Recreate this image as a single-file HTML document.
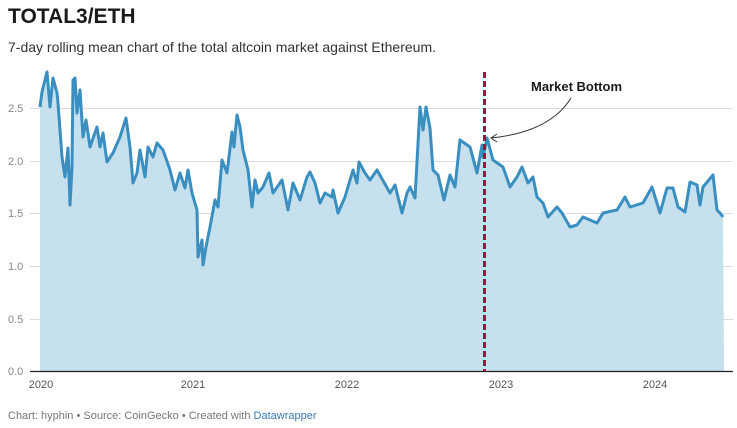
<!DOCTYPE html>
<html><head><meta charset="utf-8"><style>
body{margin:0;width:737px;height:428px;background:#fff;font-family:"Liberation Sans",Arial,sans-serif;overflow:hidden;position:relative}
.t{position:absolute;left:8px;top:5px;font-size:21px;font-weight:bold;color:#1a1a1a}
.s{position:absolute;left:8px;top:39px;font-size:14px;color:#333}
.f{position:absolute;left:8px;top:410px;font-size:11px;color:#777}
.f span{color:#3a7ab8}
svg{position:absolute;left:0;top:0}
</style></head><body>
<div class="t">TOTAL3/ETH</div>
<div class="s">7-day rolling mean chart of the total altcoin market against Ethereum.</div>
<svg width="737" height="428">
<g stroke="#dcdcdc" stroke-width="1">
<line x1="30" x2="733" y1="108.5" y2="108.5"/><line x1="30" x2="733" y1="161.5" y2="161.5"/><line x1="30" x2="733" y1="213.5" y2="213.5"/><line x1="30" x2="733" y1="266.5" y2="266.5"/><line x1="30" x2="733" y1="319.5" y2="319.5"/>
</g>
<g font-size="11" fill="#888" font-family="Liberation Sans,Arial,sans-serif">
<text x="8" y="112">2.5</text><text x="8" y="165">2.0</text><text x="8" y="217">1.5</text><text x="8" y="270">1.0</text><text x="8" y="323">0.5</text><text x="8" y="375">0.0</text>
</g>
<g font-size="11" fill="#555" text-anchor="middle" font-family="Liberation Sans,Arial,sans-serif">
<text x="41" y="388">2020</text><text x="193" y="388">2021</text><text x="347" y="388">2022</text><text x="501" y="388">2023</text><text x="655" y="388">2024</text>
</g>
<path id="a" fill="#c6e0ee" d="M40,371 L40,107 42,92 47,72 50,107 53,78 57,93 58,103 62,157 65,177 68,148 70,205 72,167 73,80 75,78 77,113 80,90 83,137 86,120 90,147 97,127 100,147 103,133 107,162 113,153 120,137 126,118 130,147 133,183 137,173 140,150 145,177 148,147 153,157 157,143 163,150 170,170 175,190 180,173 185,188 188,170 192,193 197,210 198,257 202,240 203,265 206,247 210,227 215,200 218,207 222,160 227,173 232,132 234,147 237,115 240,127 243,150 248,170 252,207 255,180 258,193 263,187 269,173 273,193 282,180 288,210 293,183 300,200 307,177 310,172 315,183 320,203 325,193 332,197 333,190 338,213 345,197 353,170 357,183 359,162 365,173 370,180 377,170 390,193 395,185 402,213 407,193 410,187 415,198 420,107 423,130 426,107 430,128 433,170 438,175 444,200 450,175 455,187 460,140 470,147 477,173 482,145 483,157 487,138 493,160 503,167 510,187 517,177 522,167 528,183 533,177 537,197 543,203 548,217 557,207 562,213 570,227 577,225 583,217 597,223 603,213 617,210 625,197 630,207 643,203 652,187 660,213 667,188 673,188 678,207 685,212 690,182 697,185 700,205 703,187 713,175 717,210 720,213 723,217 L724,371 Z"/>
<polyline fill="none" stroke="#3b8fc0" stroke-width="3" stroke-linejoin="round" points="40,107 42,92 47,72 50,107 53,78 57,93 58,103 62,157 65,177 68,148 70,205 72,167 73,80 75,78 77,113 80,90 83,137 86,120 90,147 97,127 100,147 103,133 107,162 113,153 120,137 126,118 130,147 133,183 137,173 140,150 145,177 148,147 153,157 157,143 163,150 170,170 175,190 180,173 185,188 188,170 192,193 197,210 198,257 202,240 203,265 206,247 210,227 215,200 218,207 222,160 227,173 232,132 234,147 237,115 240,127 243,150 248,170 252,207 255,180 258,193 263,187 269,173 273,193 282,180 288,210 293,183 300,200 307,177 310,172 315,183 320,203 325,193 332,197 333,190 338,213 345,197 353,170 357,183 359,162 365,173 370,180 377,170 390,193 395,185 402,213 407,193 410,187 415,198 420,107 423,130 426,107 430,128 433,170 438,175 444,200 450,175 455,187 460,140 470,147 477,173 482,145 483,157 487,138 493,160 503,167 510,187 517,177 522,167 528,183 533,177 537,197 543,203 548,217 557,207 562,213 570,227 577,225 583,217 597,223 603,213 617,210 625,197 630,207 643,203 652,187 660,213 667,188 673,188 678,207 685,212 690,182 697,185 700,205 703,187 713,175 717,210 720,213 723,217"/>
<line x1="30" x2="733" y1="371.5" y2="371.5" stroke="#222" stroke-width="1.2"/>
<line x1="484.5" x2="484.5" y1="72" y2="371" stroke="#a3143d" stroke-width="3" stroke-dasharray="6,3"/>
<text x="531" y="91" font-size="13" font-weight="bold" fill="#1a1a1a" font-family="Liberation Sans,Arial,sans-serif">Market Bottom</text>
<path d="M571,98 Q550,132 491,138" fill="none" stroke="#333" stroke-width="1"/>
<path d="M497,134 L491,138 L497,142" fill="none" stroke="#333" stroke-width="1"/>
</svg>
<div class="f">Chart: hyphin • Source: CoinGecko • Created with <span>Datawrapper</span></div>
</body></html>
